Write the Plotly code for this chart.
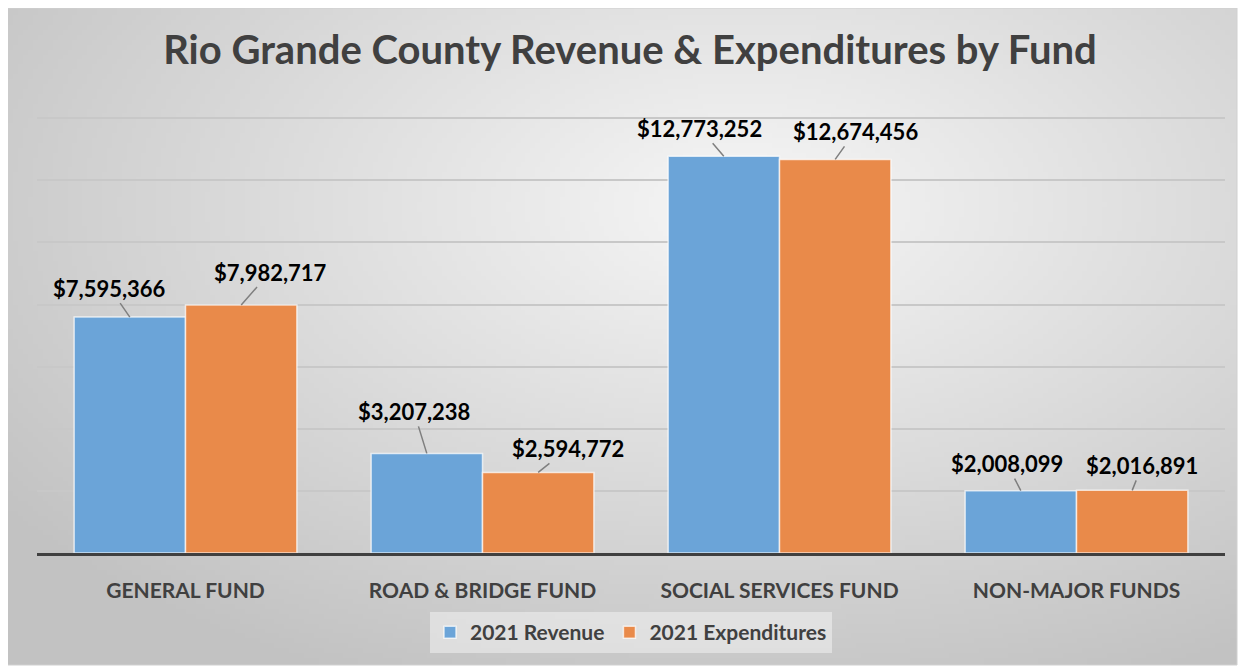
import base64, struct, zlib
import plotly.graph_objects as go

categories = ["GENERAL FUND", "ROAD & BRIDGE FUND", "SOCIAL SERVICES FUND", "NON-MAJOR FUNDS"]
revenue = [7595366, 3207238, 12773252, 2008099]
expenditures = [7982717, 2594772, 12674456, 2016891]
series_names = ["2021 Revenue", "2021 Expenditures"]
grid_values = [2e6, 4e6, 6e6, 8e6, 10e6, 12e6, 14e6]

# label offsets (pixels) for the leader-line data labels (style only)
rev_label_offsets = [(-20, -29), (-13, -42), (-24, -28), (-14, -27)]
exp_label_offsets = [(29, -33), (30, -24), (20, -28), (10, -25)]

BLUE = "#6BA4D8"
ORANGE = "#E98A4A"
FONT = "Lato"

# page body has an 8px margin; figure sized to fit the window
W, H = 1244, 659
PL, PR, PT, PB = 29, 1217, 104, 545  # plot area in figure px
PW, PH = PR - PL, PB - PT
YMAX = 14.2e6


def radial_png(w, h, cx, cy, c_in, c_out):
    rows = []
    for j in range(h):
        row = bytearray([0])
        for i in range(w):
            dx = (i / (w - 1) - cx) / 0.75
            dy = (j / (h - 1) - cy) / 0.8
            d = min(1.0, (dx * dx + dy * dy) ** 0.5)
            v = int(round(c_in + (c_out - c_in) * d))
            row.append(v)
        rows.append(bytes(row))
    raw = b"".join(rows)

    def chunk(t, data):
        c = struct.pack(">I", len(data)) + t + data
        return c + struct.pack(">I", zlib.crc32(t + data) & 0xffffffff)

    png = b"\x89PNG\r\n\x1a\n"
    png += chunk(b"IHDR", struct.pack(">IIBBBBB", w, h, 8, 0, 0, 0, 0))
    png += chunk(b"IDAT", zlib.compress(raw, 9))
    png += chunk(b"IEND", b"")
    return "data:image/png;base64," + base64.b64encode(png).decode()


bg = radial_png(250, 134, 0.6, 0.3, 246, 194)

fig = go.Figure()
fig.add_trace(go.Bar(x=categories, y=revenue, name=series_names[0],
                     marker=dict(color=BLUE, line=dict(color="rgba(255,255,255,0.7)", width=1.5))))
fig.add_trace(go.Bar(x=categories, y=expenditures, name=series_names[1],
                     marker=dict(color=ORANGE, line=dict(color="rgba(255,255,255,0.7)", width=1.5))))

annotations = []
for series, offs, shift in ((revenue, rev_label_offsets, -0.1875), (expenditures, exp_label_offsets, 0.1875)):
    for i, (v, (ax, ay)) in enumerate(zip(series, offs)):
        annotations.append(dict(
            x=i + shift, y=v, xref="x", yref="y",
            text="${:,}".format(v), showarrow=True, arrowhead=0, arrowwidth=1.5,
            arrowcolor="#7f7f7f", ax=ax, ay=ay, axref="pixel", ayref="pixel",
            font=dict(family=FONT, size=22, color="#000000", weight="bold"),
            standoff=0, startstandoff=0,
        ))

# frame (page px -> figure px: minus 8)
fx0, fx1, fy0, fy1 = -2, 1229, 0, 657

fig.update_layout(
    width=W, height=H,
    paper_bgcolor="#ffffff",
    plot_bgcolor="rgba(0,0,0,0)",
    margin=dict(l=PL, r=W - PR, t=PT, b=H - PB),
    barmode="group", bargap=0.25, bargroupgap=0,
    title=dict(text="Rio Grande County Revenue & Expenditures by Fund",
               x=0.5, xanchor="center", y=1 - 42 / H, yanchor="middle",
               font=dict(family=FONT, size=40, color="#404040", weight="bold")),
    xaxis=dict(showline=True, linecolor="#404040", linewidth=3, showgrid=False,
               ticks="", ticklabelstandoff=17,
               tickfont=dict(family=FONT, size=21, color="#404040", weight="bold"),
               range=[-0.5, 3.5]),
    yaxis=dict(range=[0, YMAX], tickvals=grid_values,
               showticklabels=False,
               gridcolor="#c8c8c8", gridwidth=1.5, zeroline=False),
    legend=dict(orientation="h", x=0.5, xanchor="center",
                y=(PB - 604) / PH, yanchor="top",
                bgcolor="rgba(245,245,245,0.5)",
                font=dict(family=FONT, size=21, color="#404040", weight="bold"),
                itemwidth=30),
    annotations=annotations,
    images=[dict(source=bg, xref="paper", yref="paper",
                 x=(fx0 - PL) / PW, y=(PB - fy0) / PH,
                 sizex=(fx1 - fx0) / PW, sizey=(fy1 - fy0) / PH,
                 sizing="stretch", layer="below", xanchor="left", yanchor="top")],
    shapes=[dict(type="rect", xref="paper", yref="paper",
                 x0=(fx0 - PL) / PW, x1=(fx1 - PL) / PW,
                 y0=(PB - fy1) / PH, y1=(PB - fy0) / PH,
                 line=dict(color="#d0d0d0", width=1), layer="below")],
)

fig.write_html("out.html")
